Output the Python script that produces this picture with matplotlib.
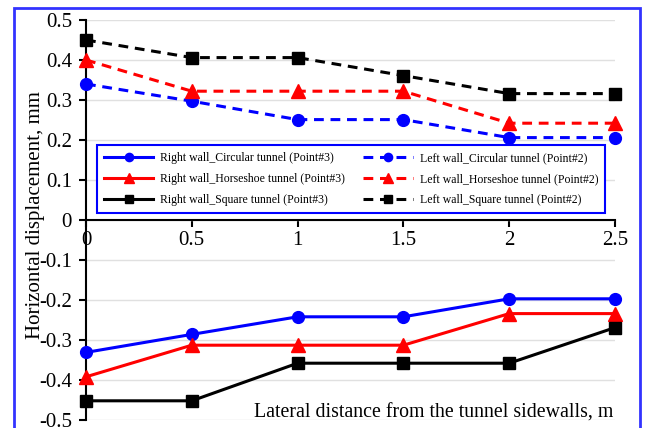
import matplotlib
matplotlib.use("Agg")
import matplotlib.pyplot as plt
from matplotlib.patches import Rectangle

plt.rcParams['font.family'] = ['Liberation Serif', 'DejaVu Serif']

x = [0, 0.5, 1, 1.5, 2, 2.5]
right_circ = [-0.331, -0.286, -0.242, -0.242, -0.197, -0.197]
right_horse = [-0.392, -0.313, -0.313, -0.313, -0.234, -0.234]
right_square = [-0.452, -0.452, -0.358, -0.358, -0.358, -0.269]
left_circ = [0.34, 0.297, 0.251, 0.251, 0.206, 0.206]
left_horse = [0.40, 0.322, 0.322, 0.322, 0.242, 0.242]
left_square = [0.45, 0.406, 0.406, 0.361, 0.316, 0.316]

labels_right = ["Right wall_Circular tunnel (Point#3)",
                "Right wall_Horseshoe tunnel (Point#3)",
                "Right wall_Square tunnel (Point#3)"]
labels_left = ["Left wall_Circular tunnel (Point#2)",
               "Left wall_Horseshoe tunnel (Point#2)",
               "Left wall_Square tunnel (Point#2)"]
yticks = [-0.5, -0.4, -0.3, -0.2, -0.1, 0, 0.1, 0.2, 0.3, 0.4, 0.5]
ytick_labels = ["-0.5", "-0.4", "-0.3", "-0.2", "-0.1", "0", "0.1", "0.2", "0.3", "0.4", "0.5"]
xticks = [0, 0.5, 1, 1.5, 2, 2.5]
xtick_labels = ["0", "0.5", "1", "1.5", "2", "2.5"]

fig = plt.figure(figsize=(6.49, 4.28), dpi=100)
ax = fig.add_axes([86/649, 1-420/428, (615-86)/649, 400/428])

ms = 8.5
dash = (0, (3.2, 2.2))
right_series = [(right_circ, 'blue', 'o'), (right_horse, 'red', '^'), (right_square, 'black', 's')]
left_series = [(left_circ, 'blue', 'o'), (left_horse, 'red', '^'), (left_square, 'black', 's')]

handles = []
for (vals, c, m), lab in zip(right_series, labels_right):
    h, = ax.plot(x, vals, color=c, marker=m, linestyle='-', lw=2.2,
                 ms=(ms + 1 if m == '^' else ms), label=lab, clip_on=False, zorder=3)
    handles.append(h)
for (vals, c, m), lab in zip(left_series, labels_left):
    h, = ax.plot(x, vals, color=c, marker=m, linestyle=dash, lw=2.2,
                 ms=(ms + 1 if m == '^' else ms), label=lab, clip_on=False, zorder=3)
    handles.append(h)

ax.set_xlim(0, 2.5)
ax.set_ylim(-0.5, 0.5)
ax.set_yticks(yticks)
ax.set_yticklabels(ytick_labels)
ax.set_xticks(xticks)
ax.set_xticklabels(xtick_labels)
ax.grid(axis='y', color='#e0e0e0', lw=1)
ax.set_axisbelow(True)
for s in ['top', 'right']:
    ax.spines[s].set_visible(False)
ax.spines['bottom'].set_position(('data', 0))
ax.spines['left'].set_linewidth(1.5)
ax.spines['bottom'].set_linewidth(1.5)
ax.tick_params(axis='both', direction='out', length=5, width=1.5, labelsize=15)
ax.tick_params(axis='y', pad=5)
ax.tick_params(axis='x', pad=3)

ax.text(2.49, -0.482, "Lateral distance from the tunnel sidewalls, m",
        ha='right', va='center', fontsize=14.3)
fig.text(36/649, 1-215/428, "Horizontal displacement, mm", rotation=90,
         ha='center', va='center', fontsize=15)

leg = ax.legend(handles=handles, ncol=2, loc='center',
                bbox_to_anchor=(0.501, 0.6025), fontsize=8.5,
                handlelength=4.2, fancybox=False, framealpha=1,
                edgecolor='blue', columnspacing=1.5, labelspacing=0.75,
                borderpad=0.6, handletextpad=0.6, markerscale=0.7)
leg.get_frame().set_linewidth(1.5)
leg.set_zorder(5)

fig.patches.append(Rectangle((14/649, -0.05), (640-14)/649, 1.05-8/428,
                             transform=fig.transFigure, fill=False,
                             edgecolor='#3333ff', lw=2))

fig.savefig("out.png", dpi=100)
